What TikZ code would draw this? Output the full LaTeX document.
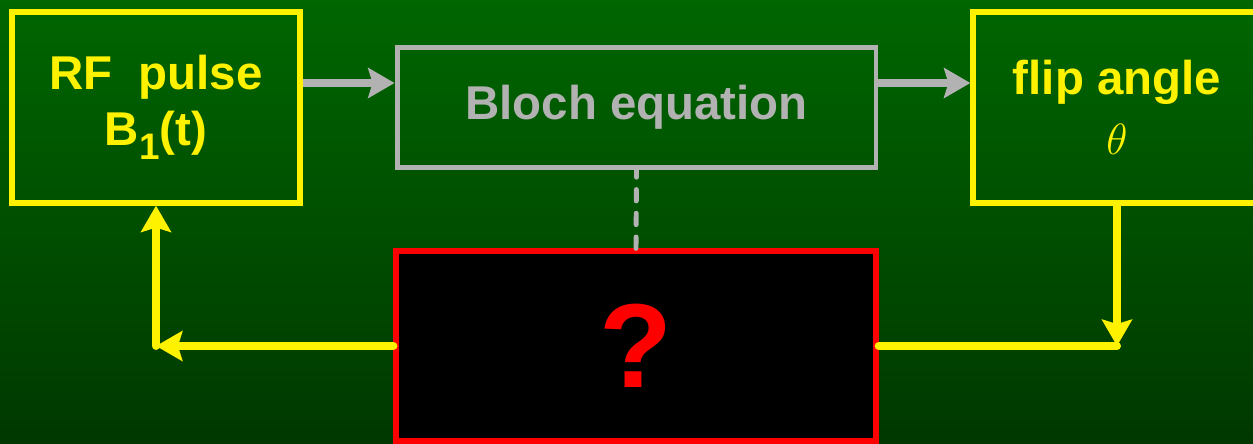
\documentclass[tikz,border=0pt]{standalone}
\usepackage{fontspec}
\setmainfont{Liberation Sans}
\usepackage{xcolor}
\usetikzlibrary{arrows.meta,positioning}
\definecolor{bgtop}{RGB}{0,102,0}
\definecolor{bgbottom}{RGB}{0,56,0}
\definecolor{boxgray}{RGB}{178,178,178}

\begin{document}
\begin{tikzpicture}[
        x=0.02cm, y=-0.02cm,
        font=\fontsize{27}{32}\selectfont\bfseries,
        ybox/.style={rectangle, draw=yellow, line width=3pt, minimum width=5.76cm, minimum height=3.82cm, text=yellow, align=center, inner sep=0pt},
        gbox/.style={rectangle, draw=boxgray, line width=2.8pt, minimum width=9.58cm, minimum height=2.4cm, text=boxgray, inner sep=0pt},
        rbox/.style={rectangle, draw=red, fill=black, line width=3pt, minimum width=9.6cm, minimum height=3.8cm, text=red, inner sep=0pt},
        headed/.style={-{Stealth[length=15pt,width=17pt,inset=2.5pt]}},
        garrow/.style={headed, draw=boxgray, line width=4.5pt},
        yarrow/.style={headed, draw=yellow, line width=4.5pt, line cap=round},
        yline/.style={draw=yellow, line width=4.5pt, line cap=round}
    ]
        % background
        \useasboundingbox (0,0) rectangle (1253,443);
        \clip (0,0) rectangle (1253,443);
        \shade[top color=bgtop, bottom color=bgbottom] (0,0) rectangle (1253,443);

        % boxes
        \node[ybox] (rf) at (156,107.5) {RF\ \ pulse\\B\raisebox{-0.3em}{\fontsize{21}{21}\selectfont 1}(t)};
        \node[gbox] (bloch) at (636.5,107.5) {Bloch equation};
        \node[ybox] (flip) at (1117,107.5) {flip angle\\[2pt]{\fontsize{33}{33}\selectfont$\theta$}};
        \node[rbox] (q) at (636,346) {\fontsize{68}{68}\selectfont ?};

        % forward path
        \draw[garrow] ([yshift=0.49cm]rf.east) -- ([yshift=0.49cm]bloch.west);
        \draw[garrow] ([yshift=0.49cm]bloch.east) -- ([yshift=0.49cm]flip.west);
        \draw[boxgray, line width=2.8pt, line cap=round, dash pattern=on 6.5pt off 7pt] (q.north) -- (bloch.south);

        % feedback loop
        \coordinate (c1) at (flip.south |- q.east);
        \coordinate (c2) at (rf.south |- q.west);
        \draw[yarrow] (flip.south) -- (c1);
        \draw[yline] (c1) -- (q.east);
        \draw[yarrow] (q.west) -- (c2);
        \draw[yarrow] (c2) -- (rf.south);
    \end{tikzpicture}
\end{document}
